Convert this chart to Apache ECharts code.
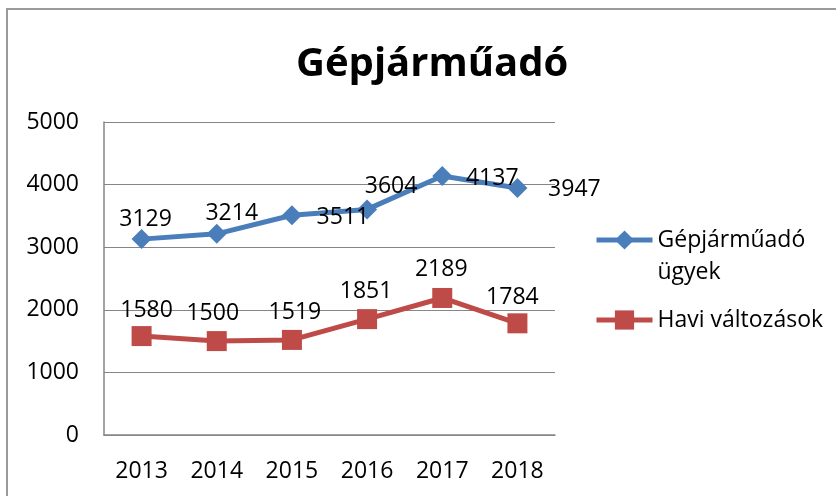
<!DOCTYPE html>
<html>
<head>
<meta charset="utf-8">
<script src="https://cdn.jsdelivr.net/npm/echarts@6/dist/echarts.min.js"></script>
<style>html,body{margin:0;padding:0;background:#fff;}#c{width:836px;height:496px;}</style>
</head>
<body>
<div id="c"></div>
<script>
const titleText = 'Gépjárműadó';
const categories = ['2013', '2014', '2015', '2016', '2017', '2018'];
const seriesNames = ['Gépjárműadó ügyek', 'Havi változások'];
const ugyekValues = [3129, 3214, 3511, 3604, 4137, 3947];
const haviValues = [1580, 1500, 1519, 1851, 2189, 1784];
const yTicks = { min: 0, max: 5000, interval: 1000 };

// label placement (styling only)
const blueLabelOffsets = [[4, -20], [15, -20], [51, 2], [24, -23], [50, 2], [57, 2]];
const redLabelOffsets = [[5, -26], [-4, -28], [3, -27], [-1, -28], [-1, -29], [-5, -26]];

const FONT = 'Open Sans';
const chart = echarts.init(document.getElementById('c'), null, { renderer: 'canvas' });

function withOffsets(values, offsets) {
  return values.map((v, i) => ({ value: v, label: { offset: offsets[i] } }));
}

chart.setOption({
  backgroundColor: '#fff',
  animation: false,
  graphic: [{
    type: 'rect', silent: true,
    shape: { x: 7, y: 9, width: 900, height: 600 },
    style: { fill: 'none', stroke: '#9a9a9a', lineWidth: 2 }
  }],
  title: {
    text: titleText, left: 291, top: 40,
    textStyle: { fontFamily: FONT, fontWeight: 'bold', fontSize: 40, color: '#000' }
  },
  legend: {
    orient: 'vertical', left: 589, top: 187, itemGap: 16,
    itemWidth: 56, itemHeight: 24,
    lineStyle: { width: 5 },
    textStyle: { fontFamily: FONT, fontSize: 23, color: '#000', lineHeight: 32 },
    formatter: name => name === seriesNames[0] ? ' \nGépjárműadó\nügyek' : name,
    data: [seriesNames[0], seriesNames[1]]
  },
  grid: { left: 104, right: 281, top: 122, bottom: 61, containLabel: false },
  xAxis: {
    type: 'category', data: categories, boundaryGap: true,
    axisLine: { lineStyle: { color: '#868686', width: 1.5 } },
    axisTick: { show: false },
    axisLabel: { fontFamily: FONT, fontSize: 23, color: '#000', margin: 25 }
  },
  yAxis: {
    type: 'value', min: yTicks.min, max: yTicks.max, interval: yTicks.interval,
    axisLine: { show: true, lineStyle: { color: '#868686', width: 1.5 } },
    axisTick: { show: false },
    splitLine: { lineStyle: { color: '#868686', width: 1 } },
    axisLabel: { fontFamily: FONT, fontSize: 23, color: '#000', margin: 25, formatter: v => String(v) }
  },
  series: [
    {
      name: seriesNames[0], type: 'line', data: withOffsets(ugyekValues, blueLabelOffsets),
      symbol: 'diamond', symbolSize: [20, 20],
      itemStyle: { color: '#4A7EBB' },
      lineStyle: { color: '#4A7EBB', width: 5 },
      label: { show: true, position: 'inside', fontFamily: FONT, fontSize: 23, color: '#000' },
      z: 3
    },
    {
      name: seriesNames[1], type: 'line', data: withOffsets(haviValues, redLabelOffsets),
      symbol: 'rect', symbolSize: [20, 20],
      itemStyle: { color: '#BE4B48' },
      lineStyle: { color: '#BE4B48', width: 5 },
      label: { show: true, position: 'inside', fontFamily: FONT, fontSize: 23, color: '#000' },
      z: 2
    }
  ]
});
</script>
</body>
</html>
